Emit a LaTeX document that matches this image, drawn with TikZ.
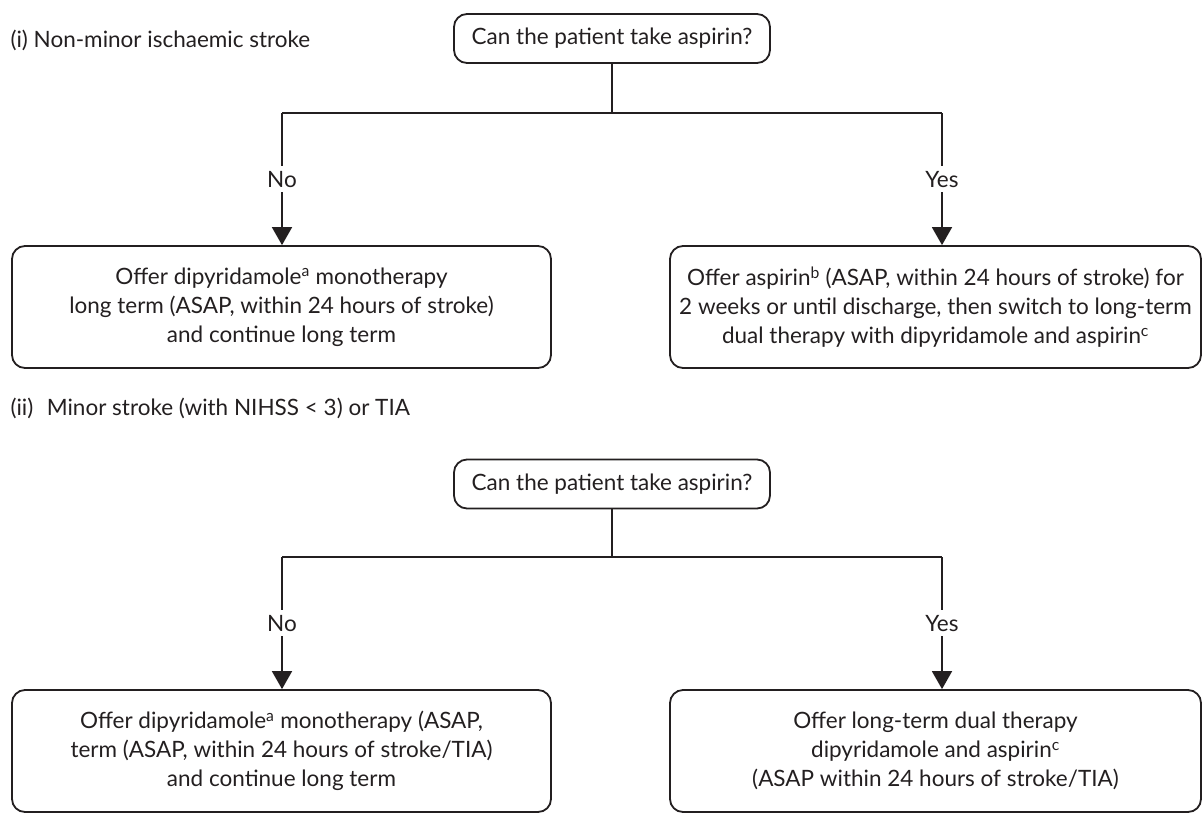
\documentclass[tikz,border=0pt]{standalone}
\usepackage{fontspec}
\setmainfont{Lato}
\usetikzlibrary{arrows.meta}
\definecolor{ink}{HTML}{231F20}
\begin{document}
\begin{tikzpicture}[x=1pt,y=-1pt,
  every node/.style={text=ink, font=\fontsize{22.5}{29}\selectfont},
  qbox/.style={draw=ink, line width=1.8pt, rounded corners=13pt, minimum width=316pt, minimum height=49pt, inner sep=0pt},
  abox/.style={draw=ink, line width=1.8pt, rounded corners=13pt, minimum height=122pt, inner sep=0pt, align=center},
  wire/.style={draw=ink, line width=1.8pt},
  flow/.style={wire, -{Triangle[length=18pt,width=20pt]}},
  tag/.style={fill=white, inner xsep=2pt, inner ysep=5pt}
]
\useasboundingbox (0,0) rectangle (1203,823);

% ---- (i) Non-minor ischaemic stroke ----
\node[anchor=west] (capA) at (7,40) {(i) Non-minor ischaemic stroke};
\node[qbox] (qA) at (612,38.5) {Can the patient take aspirin?};
\coordinate (jA) at (612,113);
\coordinate (lA) at (282,113);
\coordinate (rA) at (942,113);
\node[abox, minimum width=539pt] (noA) at (281.5,307)
  {Offer dipyridamole\textsuperscript{a} monotherapy\\
   long term (ASAP, within 24 hours of stroke)\\
   and continue long term};
\node[abox, minimum width=531pt] (yesA) at (935.5,307)
  {Offer aspirin\textsuperscript{b} (ASAP, within 24 hours of stroke) for\\
   2 weeks or until discharge, then switch to long-term\\
   dual therapy with dipyridamole and aspirin\textsuperscript{c}};
\draw[wire] (qA.south) -- (jA);
\draw[wire] (lA) -- (rA);
\draw[flow] (lA) -- node[tag] {No} (lA |- noA.north);
\draw[flow] (rA) -- node[tag] {Yes} (rA |- yesA.north);

% ---- (ii) Minor stroke or TIA ----
\node[anchor=west] (capB) at (7,408) {(ii)\hspace{0.6em}Minor stroke (with NIHSS < 3) or TIA};
\node[qbox] (qB) at (612,484) {Can the patient take aspirin?};
\coordinate (jB) at (612,557);
\coordinate (lB) at (282,557);
\coordinate (rB) at (942,557);
\node[abox, minimum width=539pt] (noB) at (281.5,751)
  {Offer dipyridamole\textsuperscript{a} monotherapy (ASAP,\\
   term (ASAP, within 24 hours of stroke/TIA)\\
   and continue long term};
\node[abox, minimum width=531pt] (yesB) at (935.5,751)
  {Offer long-term dual therapy\\
   dipyridamole and aspirin\textsuperscript{c}\\
   (ASAP within 24 hours of stroke/TIA)};
\draw[wire] (qB.south) -- (jB);
\draw[wire] (lB) -- (rB);
\draw[flow] (lB) -- node[tag] {No} (lB |- noB.north);
\draw[flow] (rB) -- node[tag] {Yes} (rB |- yesB.north);
\end{tikzpicture}
\end{document}
